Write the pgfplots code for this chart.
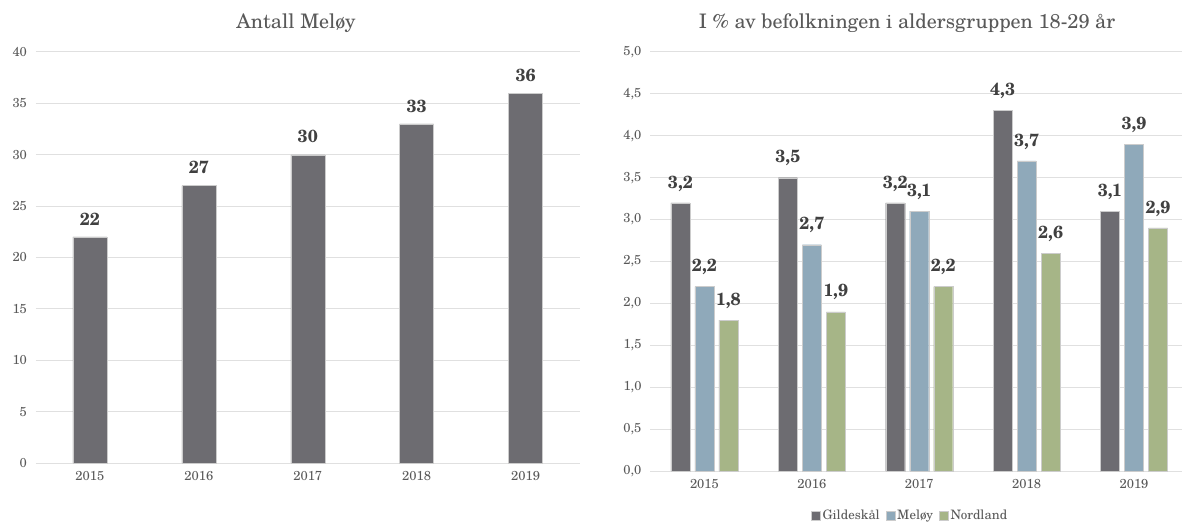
\documentclass[border=0pt]{standalone}
\usepackage{fontspec}
\setmainfont{TeX Gyre Schola}
\usepackage{pgfplots}
\pgfplotsset{compat=1.18}
\definecolor{cGray}{HTML}{6D6C71}
\definecolor{cBlue}{HTML}{8FA9BA}
\definecolor{cGreen}{HTML}{A6B587}
\definecolor{cGrid}{HTML}{E0E0E0}
\definecolor{cText}{HTML}{595959}
\definecolor{cLabel}{HTML}{404040}

\pgfplotsset{
  excelbar/.style={
    scale only axis, anchor=south west,
    axis line style={draw=none}, major tick length=0pt,
    ymajorgrids, grid style={cGrid, line width=1pt},
    xtick={0,1,2,3,4}, xticklabels={2015,2016,2017,2018,2019},
    tick label style={font=\fontsize{13}{15}\selectfont, text=cText},
    xticklabel style={yshift=-5pt},
    yticklabel style={xshift=-5pt},
    /pgf/number format/assume math mode=true,
    ymin=0, clip=false,
    nodes near coords,
    every node near coord/.append style={font=\bfseries\fontsize{17.5}{19}\selectfont, text=cLabel, yshift=8pt},
  },
  sqleg/.style={legend image code/.code={\fill[##1] (0pt,-4.5pt) rectangle (9pt,4.5pt);}},
}

\begin{document}
\begin{tikzpicture}
\useasboundingbox (0,0) rectangle (1182pt,523pt);

% left: Antall Meløy
\begin{axis}[excelbar, at={(35.5pt,60pt)}, width=544.5pt, height=411pt,
  xmin=-0.5, xmax=4.5, ymax=40, ytick={0,5,...,40},
  ybar, bar width=34pt]
\addplot[fill=cGray, draw=white!80!black] coordinates {(0,22) (1,27) (2,30) (3,33) (4,36)};
\end{axis}

% right: share of 18-29
\begin{axis}[excelbar, at={(650pt,52pt)}, width=532pt, height=419pt,
  xmin=-0.507, xmax=4.447, ymax=5, ytick={0,0.5,1,1.5,2,2.5,3,3.5,4,4.5,5},
  ybar=5pt, bar width=19pt,
  /pgf/number format/fixed, /pgf/number format/fixed zerofill,
  /pgf/number format/precision=1, /pgf/number format/use comma,
  legend style={at={(0.489,-0.107)}, anchor=center, draw=none, fill=none,
    legend columns=3, font=\fontsize{13}{15}\selectfont, text=cText,
    /tikz/every even column/.append style={column sep=4pt}},
  legend cell align=left]
\addplot[fill=cGray, draw=white!80!black, sqleg] coordinates {(0,3.2) (1,3.5) (2,3.2) (3,4.3) (4,3.1)};
\addplot[fill=cBlue, draw=white!80!black, sqleg] coordinates {(0,2.2) (1,2.7) (2,3.1) (3,3.7) (4,3.9)};
\addplot[fill=cGreen, draw=white!80!black, sqleg] coordinates {(0,1.8) (1,1.9) (2,2.2) (3,2.6) (4,2.9)};
\legend{Gildeskål, Meløy, Nordland}
\end{axis}

\node[text=cText, font=\fontsize{20}{24}\selectfont] at (296pt,500pt) {Antall Meløy};
\node[text=cText, font=\fontsize{20}{24}\selectfont] at (907pt,500pt) {I \% av befolkningen i aldersgruppen 18-29 år};
\end{tikzpicture}
\end{document}
